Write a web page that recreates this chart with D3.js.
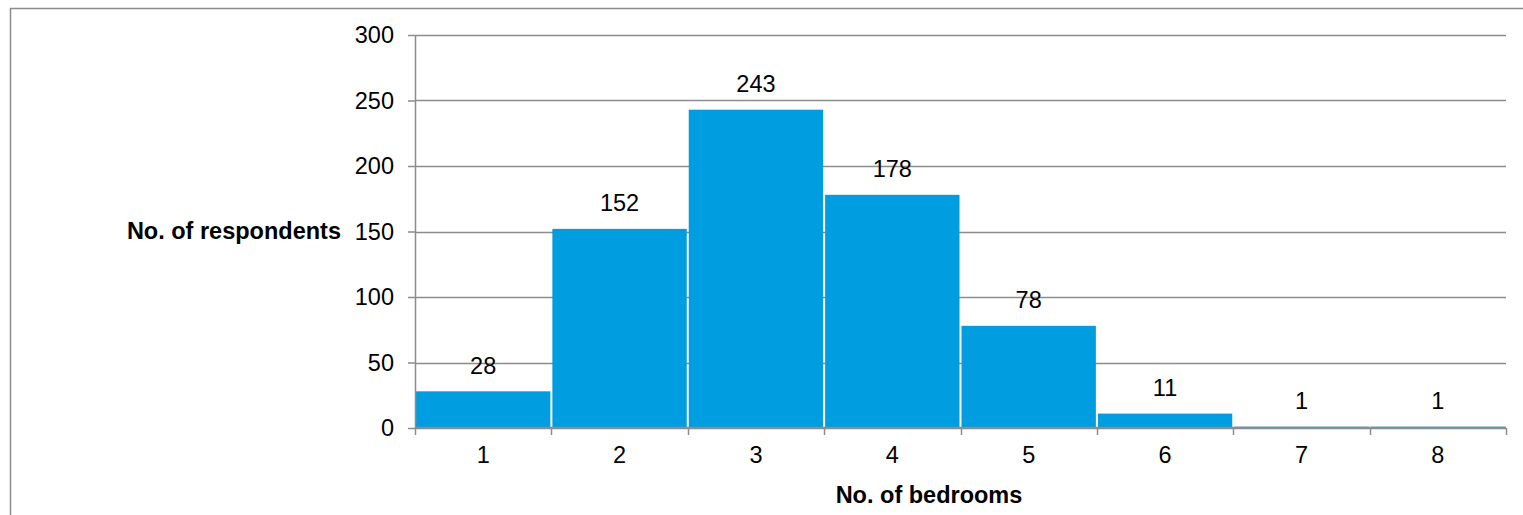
<!DOCTYPE html>
<html>
<head>
<meta charset="utf-8">
<script src="https://cdn.jsdelivr.net/npm/d3@7"></script>
<style>
  html, body { margin: 0; padding: 0; background: #fff; }
  svg { display: block; font-family: "Liberation Sans", Arial, sans-serif; }
</style>
</head>
<body>
<svg id="chart" width="1523" height="515"></svg>
<script>
// Bedroom counts and number of respondents in each
const categories = ["1", "2", "3", "4", "5", "6", "7", "8"];
const respondents = [28, 152, 243, 178, 78, 11, 1, 1];
const yTicks = [0, 50, 100, 150, 200, 250, 300];
const xTitle = "No. of bedrooms";
const yTitle = "No. of respondents";

const svg = d3.select("#chart");
const W = 1523, H = 515;
const plot = { left: 415, right: 1506, top: 35, bottom: 428 };
const fontSize = 23.5;
const lineColor = "#8c8c8c";

// Outer frame (runs off the right and bottom edges)
svg.append("rect")
  .attr("x", 10.5).attr("y", 8.5)
  .attr("width", W + 20).attr("height", H + 20)
  .attr("fill", "none").attr("stroke", lineColor).attr("stroke-width", 1.5);

const x = d3.scaleBand().domain(categories).range([plot.left, plot.right]).padding(0);
const y = d3.scaleLinear().domain([0, 300]).range([plot.bottom, plot.top]);

// Horizontal gridlines
svg.append("g").selectAll("line").data(yTicks.filter(d => d > 0)).join("line")
  .attr("x1", plot.left).attr("x2", plot.right)
  .attr("y1", d => Math.round(y(d)) + 0.5).attr("y2", d => Math.round(y(d)) + 0.5)
  .attr("stroke", lineColor).attr("stroke-width", 1.5);

// Bars
svg.append("g").selectAll("rect").data(respondents).join("rect")
  .attr("x", (d, i) => x(categories[i]) + 1)
  .attr("width", x.bandwidth() - 2)
  .attr("y", d => y(d))
  .attr("height", d => y(0) - y(d))
  .attr("fill", "#009de0");

// Y axis
const yAxis = d3.axisLeft(y).tickValues(yTicks).tickSize(7).tickPadding(14);
const gy = svg.append("g").attr("transform", `translate(${plot.left},0)`).call(yAxis);
gy.select(".domain").attr("stroke", lineColor).attr("stroke-width", 1.5)
  .attr("d", `M0.5,${plot.top}V${plot.bottom}`);
gy.selectAll(".tick line").attr("stroke", lineColor).attr("stroke-width", 1.5);
gy.selectAll(".tick text").attr("font-size", fontSize).attr("fill", "#000")
  .attr("font-family", "Liberation Sans, Arial, sans-serif");

// X axis: ticks on category boundaries, labels centred in each band
const gx = svg.append("g").attr("transform", `translate(0,${plot.bottom})`);
gx.append("line")
  .attr("x1", plot.left).attr("x2", plot.right)
  .attr("y1", 0).attr("y2", 0)
  .attr("stroke", lineColor).attr("stroke-width", 2.5);
const bounds = categories.map(c => x(c)).concat([plot.right]);
gx.selectAll("line.tk").data(bounds).join("line").attr("class", "tk")
  .attr("x1", d => Math.round(d) + 0.5).attr("x2", d => Math.round(d) + 0.5)
  .attr("y1", 0).attr("y2", 7)
  .attr("stroke", lineColor).attr("stroke-width", 1.5);
gx.selectAll("text").data(categories).join("text")
  .attr("x", d => x(d) + x.bandwidth() / 2)
  .attr("y", 35)
  .attr("text-anchor", "middle")
  .attr("font-size", fontSize).attr("fill", "#000")
  .text(d => d);

// Value labels above each bar
svg.append("g").selectAll("text").data(respondents).join("text")
  .attr("x", (d, i) => x(categories[i]) + x.bandwidth() / 2)
  .attr("y", d => y(d) - 17.5)
  .attr("text-anchor", "middle")
  .attr("font-size", fontSize)
  .attr("fill", "#000")
  .text(d => d);

// Axis titles
svg.append("text")
  .attr("x", 929).attr("y", 503)
  .attr("text-anchor", "middle")
  .attr("font-size", fontSize).attr("font-weight", "bold").attr("fill", "#000")
  .text(xTitle);
svg.append("text")
  .attr("x", 341).attr("y", 239)
  .attr("text-anchor", "end")
  .attr("font-size", fontSize).attr("font-weight", "bold").attr("fill", "#000")
  .text(yTitle);
</script>
</body>
</html>
